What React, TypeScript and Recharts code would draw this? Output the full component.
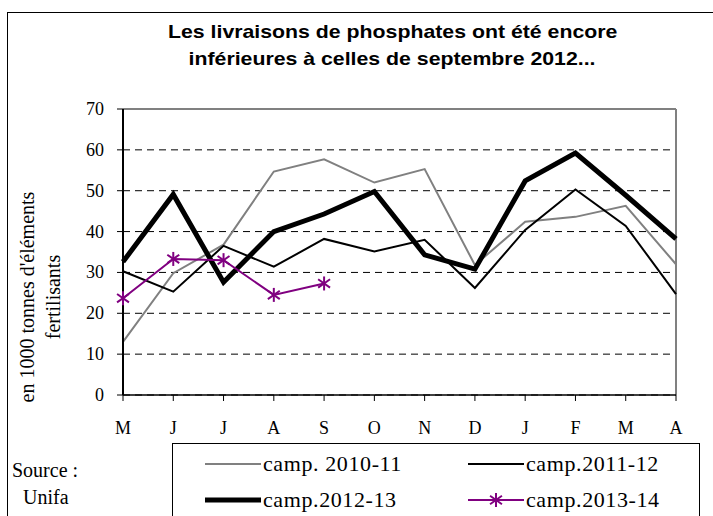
import { LineChart, Line, XAxis, YAxis, CartesianGrid, ReferenceLine } from "recharts";

// mois de campagne (mai -> avril)
const mois = ["M", "J", "J", "A", "S", "O", "N", "D", "J", "F", "M", "A"];
const camp1011 = [13.0, 29.8, 36.8, 54.7, 57.7, 52.0, 55.3, 31.8, 42.4, 43.6, 46.3, 32.0];
const camp1112 = [30.3, 25.3, 36.5, 31.4, 38.2, 35.1, 38.0, 26.2, 40.4, 50.3, 41.4, 24.7];
const camp1213 = [32.6, 49.1, 27.6, 40.0, 44.3, 49.8, 34.3, 30.8, 52.4, 59.2, 48.9, 38.2];
const camp1314 = [23.7, 33.3, 33.0, 24.5, 27.3];
const ticksY = [0, 10, 20, 30, 40, 50, 60, 70];

const dati = mois.map((m, i) => ({
  i,
  m,
  a: camp1011[i],
  b: camp1112[i],
  c: camp1213[i],
  d: i < camp1314.length ? camp1314[i] : null,
}));

const serif = "'Liberation Serif', 'Times New Roman', serif";
const sans = "'Liberation Sans', Arial, sans-serif";
const VIOLET = "#800080";

function Etoile(props: any) {
  const { cx, cy, index, value } = props;
  if (cx == null || cy == null || value == null) return <g key={index} />;
  const r = 7;
  return (
    <g key={index} stroke={VIOLET} strokeWidth={2}>
      <line x1={cx} y1={cy - r} x2={cx} y2={cy + r} />
      <line x1={cx - r * 0.85} y1={cy - r * 0.6} x2={cx + r * 0.85} y2={cy + r * 0.6} />
      <line x1={cx - r * 0.85} y1={cy + r * 0.6} x2={cx + r * 0.85} y2={cy - r * 0.6} />
    </g>
  );
}

function TickX(props: any) {
  const { x, y, payload } = props;
  return (
    <text x={x} y={y + 13} textAnchor="middle" fontFamily={serif} fontSize={18} fill="#000">
      {mois[payload.value]}
    </text>
  );
}

function TickY(props: any) {
  const { x, y, payload } = props;
  return (
    <text x={x} y={y + 6} textAnchor="end" fontFamily={serif} fontSize={18} fill="#000">
      {payload.value}
    </text>
  );
}

function Echantillon({ color, width, star }: { color: string; width: number; star?: boolean }) {
  return (
    <svg width={56} height={20} style={{ display: "block" }}>
      <line x1={0} y1={10} x2={56} y2={10} stroke={color} strokeWidth={width} strokeLinecap={width > 3 ? "round" : "butt"} />
      {star && <Etoile cx={28} cy={10} value={1} index={0} />}
    </svg>
  );
}

const legende = [
  { nom: "camp. 2010-11", color: "#808080", width: 2, x: 205, y: 464 },
  { nom: "camp.2011-12", color: "#000", width: 2, x: 468, y: 464 },
  { nom: "camp.2012-13", color: "#000", width: 5, x: 205, y: 500 },
  { nom: "camp.2013-14", color: VIOLET, width: 2, x: 468, y: 500, star: true },
];

export default function App() {
  return (
    <div
      style={{
        position: "absolute",
        left: 0,
        top: 0,
        width: 713,
        height: 516,
        overflow: "hidden",
        background: "#fff",
        fontFamily: serif,
      }}
    >
      <div
        style={{
          position: "absolute",
          left: 7,
          top: 12,
          width: 760,
          height: 560,
          border: "1.5px solid #000",
        }}
      />
      <div
        style={{
          position: "absolute",
          left: 192,
          top: 18,
          width: 400,
          textAlign: "center",
          fontFamily: sans,
          fontWeight: "bold",
          fontSize: 19,
          lineHeight: "27px",
          whiteSpace: "nowrap",
          transform: "scaleX(1.12)",
        }}
      >
        Les livraisons de phosphates ont été encore
        <br />
        inférieures à celles de septembre 2012...
      </div>

      <div style={{ position: "absolute", left: 0, top: 0 }}>
        <LineChart width={713} height={516} data={dati} margin={{ top: 109, right: 37, bottom: 91, left: 63 }}>
          <CartesianGrid vertical={false} stroke="#000" strokeDasharray="7 5" />
          <XAxis
            dataKey="i"
            type="category"
            axisLine={{ stroke: "#000", strokeWidth: 1.5 }}
            tickLine={{ stroke: "#000" }}
            tickSize={6}
            tickMargin={20}
            tick={<TickX />}
            interval={0}
          />
          <YAxis
            domain={[0, 70]}
            ticks={ticksY}
            width={60}
            axisLine={{ stroke: "#000", strokeWidth: 2 }}
            tickLine={{ stroke: "#000" }}
            tickSize={6}
            tickMargin={13}
            tick={<TickY />}
          />
          <ReferenceLine y={70} stroke="#808080" strokeWidth={2} />
          <ReferenceLine x={11} stroke="#808080" strokeWidth={2} />
          <Line type="linear" dataKey="a" stroke="#808080" strokeWidth={2} dot={false} isAnimationActive={false} />
          <Line type="linear" dataKey="b" stroke="#000" strokeWidth={2} dot={false} isAnimationActive={false} />
          <Line type="linear" dataKey="c" stroke="#000" strokeWidth={5} dot={false} isAnimationActive={false} />
          <Line
            type="linear"
            dataKey="d"
            stroke={VIOLET}
            strokeWidth={2}
            dot={Etoile}
            activeDot={false}
            connectNulls={false}
            isAnimationActive={false}
          />
        </LineChart>
      </div>

      <div
        style={{
          position: "absolute",
          left: 40 - 150,
          top: 297 - 26,
          width: 300,
          height: 52,
          transform: "rotate(-90deg)",
          textAlign: "center",
          fontFamily: serif,
          fontSize: 20,
          lineHeight: "26px",
          whiteSpace: "nowrap",
        }}
      >
        en 1000 tonnes d'éléments
        <br />
        fertilisants
      </div>

      <div
        style={{
          position: "absolute",
          left: 12,
          top: 457,
          fontFamily: serif,
          fontSize: 20,
          lineHeight: "27px",
        }}
      >
        Source :
        <br />
        <span style={{ paddingLeft: 11 }}>Unifa</span>
      </div>

      <div
        style={{
          position: "absolute",
          left: 172,
          top: 443,
          width: 526,
          height: 100,
          border: "1.5px solid #000",
        }}
      />
      {legende.map((l) => (
        <div
          key={l.nom}
          style={{
            position: "absolute",
            left: l.x,
            top: l.y - 13,
            height: 26,
            display: "flex",
            alignItems: "center",
          }}
        >
          <Echantillon color={l.color} width={l.width} star={l.star} />
          <span style={{ fontFamily: serif, fontSize: 22, letterSpacing: 0.6, marginLeft: 2, whiteSpace: "nowrap" }}>
            {l.nom}
          </span>
        </div>
      ))}
    </div>
  );
}
